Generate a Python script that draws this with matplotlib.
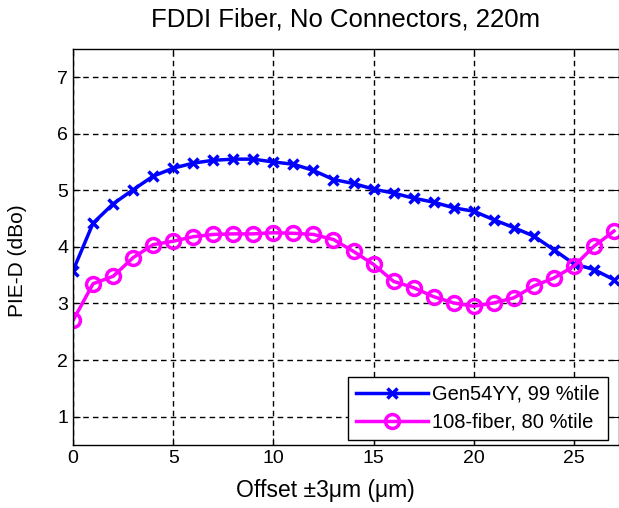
import numpy as np
import matplotlib
matplotlib.use("Agg")
import matplotlib.pyplot as plt

plt.rcParams['font.family'] = ['Liberation Sans', 'DejaVu Sans']

offset = list(range(0, 28))
gen54yy = [3.58, 4.42, 4.76, 5.01, 5.25, 5.39, 5.48, 5.53, 5.55, 5.55,
           5.50, 5.46, 5.35, 5.19, 5.12, 5.02, 4.95, 4.86, 4.79, 4.69,
           4.63, 4.48, 4.34, 4.19, 3.95, 3.70, 3.60, 3.42]
fiber108 = [2.70, 3.35, 3.48, 3.81, 4.04, 4.10, 4.18, 4.22, 4.23, 4.23,
            4.25, 4.24, 4.22, 4.13, 3.92, 3.69, 3.39, 3.28, 3.12, 3.01,
            2.95, 3.01, 3.10, 3.31, 3.45, 3.66, 4.01, 4.28]
labels = ["Gen54YY, 99 %tile", "108-fiber, 80 %tile"]

fig = plt.figure(figsize=(6.19, 5.08), dpi=100)
ax = fig.add_axes([0.118, 0.124, 0.882, 0.78])

ax.plot(offset, gen54yy, color='#0000ff', lw=2.5, marker='x', ms=7, mew=2.5,
        label=labels[0])
ax.plot(offset, fiber108, color='#ff00ff', lw=2.5, marker='o', ms=10, mew=2.5,
        mfc='none', label=labels[1])

ax.set_xlim(0, 27.25)
ax.set_ylim(0.5, 7.5)
ax.set_xticks([0, 5, 10, 15, 20, 25])
ax.set_yticks([1, 2, 3, 4, 5, 6, 7])
ax.grid(True, color='black', linestyle=(0, (4, 3)), linewidth=1)
ax.tick_params(direction='in', labelsize=14, length=5, top=True, right=True)
for s in ax.spines.values():
    s.set_linewidth(1)

ax.set_title("FDDI Fiber, No Connectors, 220m", fontsize=18.5, pad=16)
ax.set_xlabel("Offset \u00b13\u03bcm (\u03bcm)", fontsize=16.5)
ax.xaxis.set_label_coords(0.462, -0.085)
ax.set_ylabel("PIE-D (dBo)", fontsize=15)
ax.yaxis.set_label_coords(-0.084, 0.465)

leg = ax.legend(loc='lower right', bbox_to_anchor=(0.98, 0.0126), borderaxespad=0,
                fontsize=14.5, fancybox=False, edgecolor='black', framealpha=1,
                handlelength=3.6, handletextpad=0.2, labelspacing=0.45,
                borderpad=0.4)
leg.get_frame().set_linewidth(1)

fig.savefig("out.png", dpi=100)
